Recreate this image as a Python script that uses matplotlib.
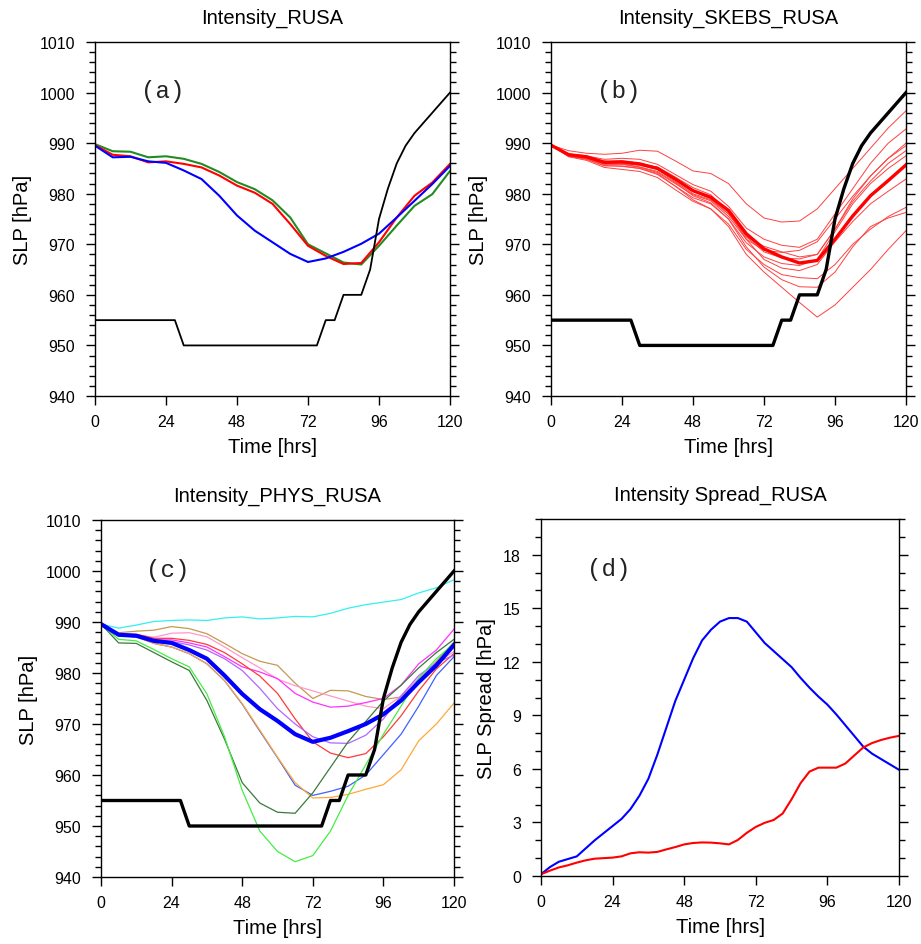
import matplotlib
matplotlib.use("Agg")
import matplotlib.pyplot as plt
from matplotlib.ticker import MultipleLocator

plt.rcParams['font.family'] = ['Liberation Sans', 'DejaVu Sans']

# ---------------- data ----------------
hours6 = [0, 6, 12, 18, 24, 30, 36, 42, 48, 54, 60, 66, 72, 78, 84, 90, 96, 102, 108, 114, 120]
hours3 = [0, 3, 6, 9, 12, 15, 18, 21, 24, 27, 30, 33, 36, 39, 42, 45, 48, 51, 54, 57,
          60, 63, 66, 69, 72, 75, 78, 81, 84, 87, 90, 93, 96, 99, 102, 105, 108, 111, 114, 117, 120]

# observed (best track) SLP, 3-hourly
obs_slp = [955, 955, 955, 955, 955, 955, 955, 955, 955, 955,
           950, 950, 950, 950, 950, 950, 950, 950, 950, 950, 950, 950, 950, 950, 950, 950,
           955, 955, 960, 960, 960,
           965, 975, 981, 986, 989.5, 992, 994, 996, 998, 1000]

# panel (a)
a_red = [989.6, 987.7, 987.4, 986.2, 986.4, 985.9, 985.2, 983.6, 981.6, 980.2, 978.0,
         974.0, 969.7, 967.7, 966.1, 966.3, 970.4, 975.3, 979.6, 982.2, 985.9]
a_green = [989.8, 988.4, 988.3, 987.2, 987.4, 986.9, 985.9, 984.3, 982.3, 980.9, 978.7,
           975.3, 970.0, 968.2, 966.4, 966.0, 969.7, 973.7, 977.6, 979.9, 984.5]
a_blue = [989.5, 987.2, 987.3, 986.4, 986.1, 984.6, 982.9, 979.6, 975.7, 972.7, 970.4,
          968.1, 966.5, 967.2, 968.5, 970.1, 972.1, 975.3, 978.6, 981.9, 985.5]

# panel (b): SKEBS ensemble members and mean
b_mean = [989.6, 987.7, 987.3, 986.2, 986.3, 985.9, 985.0, 982.9, 980.6, 979.3, 976.7,
          972.1, 969.1, 967.5, 966.3, 966.8, 971.0, 975.6, 979.6, 982.6, 985.7]
b_m1 = [989.6, 988.5, 988.0, 987.8, 988.0, 988.6, 988.4, 986.5, 984.5, 984.0, 982.0,
        978.0, 975.2, 974.4, 974.6, 977.0, 981.0, 985.0, 989.0, 993.0, 996.4]
b_m2 = [989.6, 987.9, 987.5, 986.8, 987.0, 986.8, 985.8, 983.8, 981.8, 980.5, 977.5,
        973.2, 971.0, 969.8, 969.4, 971.0, 976.0, 981.0, 986.0, 990.0, 992.8]
b_m3 = [989.6, 987.6, 987.0, 985.8, 985.8, 985.2, 984.2, 982.0, 979.8, 978.6, 975.5,
        971.0, 968.8, 968.4, 968.8, 970.5, 975.0, 979.5, 983.5, 987.0, 989.5]
b_m4 = [989.6, 987.8, 987.4, 986.5, 986.0, 985.6, 984.8, 982.4, 980.0, 978.8, 976.0,
        971.5, 968.5, 967.3, 967.1, 968.0, 973.0, 978.5, 982.5, 986.0, 988.5]
b_m5 = [989.6, 987.4, 986.8, 985.5, 985.5, 985.0, 983.8, 981.5, 979.2, 978.0, 975.0,
        970.3, 967.5, 966.2, 965.8, 967.0, 972.5, 978.0, 982.0, 985.0, 987.5]
b_m6 = [989.6, 987.5, 987.0, 986.0, 986.2, 985.8, 985.3, 983.3, 981.2, 979.8, 976.3,
        971.0, 967.0, 965.3, 964.8, 966.0, 970.5, 974.5, 978.0, 980.5, 982.9]
b_m7 = [989.6, 987.3, 986.6, 985.2, 984.8, 984.4, 983.2, 980.8, 978.5, 977.0, 974.0,
        969.0, 966.0, 964.0, 963.4, 963.2, 966.0, 970.0, 973.0, 975.5, 977.3]
b_m8 = [989.6, 987.6, 987.1, 986.0, 985.9, 985.3, 984.4, 982.2, 979.6, 978.2, 975.0,
        969.5, 965.5, 963.0, 961.6, 961.5, 964.5, 969.5, 973.5, 975.2, 976.3]
b_m9 = [989.6, 987.5, 986.9, 985.6, 985.4, 985.0, 984.0, 981.5, 978.8, 977.0, 973.5,
        968.0, 964.5, 961.5, 958.5, 955.6, 958.0, 961.5, 965.0, 969.0, 972.7]
b_m10 = [989.6, 987.7, 987.2, 986.4, 986.5, 986.0, 985.2, 983.0, 980.5, 979.0, 976.0,
         971.5, 969.6, 968.5, 967.5, 968.0, 973.0, 979.0, 983.5, 987.0, 990.0]

# panel (c): PHYS ensemble members and mean
c_mean = [989.6, 987.5, 987.3, 986.3, 985.9, 984.5, 982.8, 979.5, 975.9, 972.9, 970.6,
          968.0, 966.5, 967.3, 968.6, 970.0, 971.9, 974.6, 978.2, 981.5, 985.5]
c_cyan = [989.6, 988.8, 989.4, 990.1, 990.3, 990.4, 990.3, 990.8, 991.0, 990.6, 990.8,
          991.1, 991.0, 991.7, 992.7, 993.4, 993.9, 994.4, 995.7, 996.7, 998.3]
c_tan = [989.6, 987.9, 988.2, 988.4, 989.1, 988.7, 987.7, 985.8, 983.8, 982.3, 981.5,
         978.0, 975.0, 976.6, 976.5, 975.4, 974.8, 975.3, 978.5, 982.3, 986.1]
c_pink = [989.6, 987.7, 987.5, 987.0, 987.8, 987.9, 987.1, 985.1, 983.0, 981.0, 978.8,
          977.5, 976.5, 975.5, 974.5, 973.5, 973.0, 975.5, 979.0, 982.0, 984.2]
c_magenta = [989.6, 987.6, 987.4, 986.5, 986.5, 985.9, 985.1, 983.2, 981.2, 980.2, 978.9,
             976.0, 974.3, 973.3, 973.5, 974.2, 975.0, 977.6, 981.8, 984.5, 988.6]
c_red = [989.6, 987.6, 987.6, 986.8, 986.8, 986.4, 985.6, 984.0, 981.8, 979.4, 976.0,
         971.0, 966.5, 964.3, 963.4, 964.2, 967.5, 971.6, 976.5, 980.8, 983.8]
c_purple = [989.6, 987.5, 987.4, 986.4, 986.2, 985.5, 984.5, 982.8, 980.5, 977.0, 973.0,
            970.0, 967.5, 966.3, 966.2, 967.8, 971.0, 975.5, 979.5, 982.0, 983.5]
c_blue = [989.6, 987.3, 987.1, 985.8, 985.1, 983.8, 981.8, 978.5, 973.9, 968.6, 963.4,
          958.0, 956.0, 956.8, 957.8, 960.0, 964.0, 968.0, 973.5, 979.5, 983.2]
c_orange = [989.6, 987.3, 987.1, 985.8, 985.1, 983.8, 981.8, 978.5, 974.0, 968.8, 963.5,
            958.5, 955.5, 955.6, 956.2, 957.2, 958.1, 961.0, 966.7, 970.0, 974.1]
c_dkgreen = [989.6, 985.9, 985.8, 984.0, 982.2, 980.5, 974.6, 967.0, 958.5, 954.5, 952.7,
             952.5, 956.5, 961.5, 966.5, 970.5, 974.5, 977.6, 981.0, 984.0, 986.6]
c_ltgreen = [989.6, 986.6, 986.3, 984.6, 982.8, 981.2, 975.9, 967.5, 957.0, 949.0, 945.0,
             943.0, 944.2, 949.0, 956.0, 962.0, 968.0, 973.5, 979.0, 982.8, 985.8]

# panel (d): spread, 3-hourly
d_phys = [0.1, 0.5, 0.8, 0.95, 1.1, 1.55, 2.0, 2.4, 2.8, 3.2, 3.75, 4.5, 5.45, 6.8, 8.3,
          9.8, 11.0, 12.2, 13.2, 13.8, 14.25, 14.45, 14.45, 14.25, 13.65, 13.05, 12.6,
          12.15, 11.7, 11.1, 10.55, 10.05, 9.6, 9.05, 8.45, 7.85, 7.25, 6.85, 6.55, 6.25, 5.95]
d_skebs = [0.1, 0.3, 0.48, 0.6, 0.75, 0.88, 0.97, 1.0, 1.03, 1.1, 1.27, 1.33, 1.31, 1.35,
           1.49, 1.62, 1.77, 1.85, 1.88, 1.87, 1.83, 1.77, 2.02, 2.42, 2.75, 2.98, 3.14,
           3.5, 4.3, 5.2, 5.85, 6.07, 6.07, 6.07, 6.3, 6.75, 7.2, 7.45, 7.62, 7.75, 7.85]

titles = ["Intensity_RUSA", "Intensity_SKEBS_RUSA", "Intensity_PHYS_RUSA", "Intensity Spread_RUSA"]
panel_tags = ["(a)", "(b)", "(c)", "(d)"]
x_ticks = [0, 24, 48, 72, 96, 120]

# ---------------- figure ----------------
W, H = 921, 945
fig = plt.figure(figsize=(W / 100, H / 100), dpi=100)

def px_axes(l, r, t, b):
    return fig.add_axes([l / W, 1 - b / H, (r - l) / W, (b - t) / H])

axa = px_axes(95, 450, 43, 397)
axb = px_axes(551, 906, 43, 397)
axc = px_axes(101, 454, 521, 878)
axd = px_axes(541, 899, 520, 877)

def style(ax, title, tag, ylabel, ylim, ymajor, yminor):
    ax.set_xlim(0, 120)
    ax.set_ylim(*ylim)
    ax.set_xticks(x_ticks)
    ax.yaxis.set_major_locator(MultipleLocator(ymajor))
    ax.yaxis.set_minor_locator(MultipleLocator(yminor))
    ax.tick_params(axis='both', which='both', direction='out', width=1.0, colors='black')
    ax.tick_params(axis='y', which='major', length=6.5, left=True, right=True, labelsize=11.5, pad=8)
    ax.tick_params(axis='y', which='minor', length=4, left=True, right=True)
    ax.tick_params(axis='x', which='major', length=6.5, bottom=True, top=False, labelsize=11.5, pad=6.5)
    for s in ax.spines.values():
        s.set_linewidth(1.0)
    ax.set_title(title, fontsize=14.5, pad=14)
    ax.set_xlabel("Time [hrs]", fontsize=14.5, labelpad=6)
    ax.set_ylabel(ylabel, fontsize=14.5, labelpad=5)
    ax.text(0.19, 0.862, tag, transform=ax.transAxes, ha='center', va='center',
            fontsize=17.5, color='#222222', family=['Liberation Mono', 'DejaVu Sans Mono'])

# (a)
axa.plot(hours6, a_green, color='#228B22', lw=1.5)
axa.plot(hours6, a_red, color='red', lw=1.5)
axa.plot(hours6, a_blue, color='blue', lw=1.5)
axa.plot(hours3, obs_slp, color='black', lw=1.3)
style(axa, titles[0], panel_tags[0], "SLP [hPa]", (940, 1010), 10, 2)

# (b)
for m in [b_m1, b_m2, b_m3, b_m4, b_m5, b_m6, b_m7, b_m8, b_m9, b_m10]:
    axb.plot(hours6, m, color='#FF4040', lw=0.7)
axb.plot(hours6, b_mean, color='red', lw=2.4)
axb.plot(hours3, obs_slp, color='black', lw=2.4)
style(axb, titles[1], panel_tags[1], "SLP [hPa]", (940, 1010), 10, 2)

# (c)
c_members = [c_cyan, c_tan, c_pink, c_magenta, c_red, c_purple, c_blue, c_orange, c_dkgreen, c_ltgreen]
c_colors = ['#33F0F0', '#C49A50', '#FF99C8', '#FF30FF', '#FF3A3A', '#B066FF',
            '#4060FF', '#FFA83A', '#3A7A3A', '#44EE44']
for m, c in zip(c_members, c_colors):
    axc.plot(hours6, m, color=c, lw=0.9)
axc.plot(hours6, c_mean, color='blue', lw=3.0)
axc.plot(hours3, obs_slp, color='black', lw=2.4)
style(axc, titles[2], panel_tags[2], "SLP [hPa]", (940, 1010), 10, 2)

# (d)
axd.plot(hours3, d_phys, color='blue', lw=1.5)
axd.plot(hours3, d_skebs, color='red', lw=1.5)
style(axd, titles[3], panel_tags[3], "SLP Spread [hPa]", (0, 20), 3, 1)
axd.set_yticks([0, 3, 6, 9, 12, 15, 18])

fig.savefig("out.png", dpi=100)
